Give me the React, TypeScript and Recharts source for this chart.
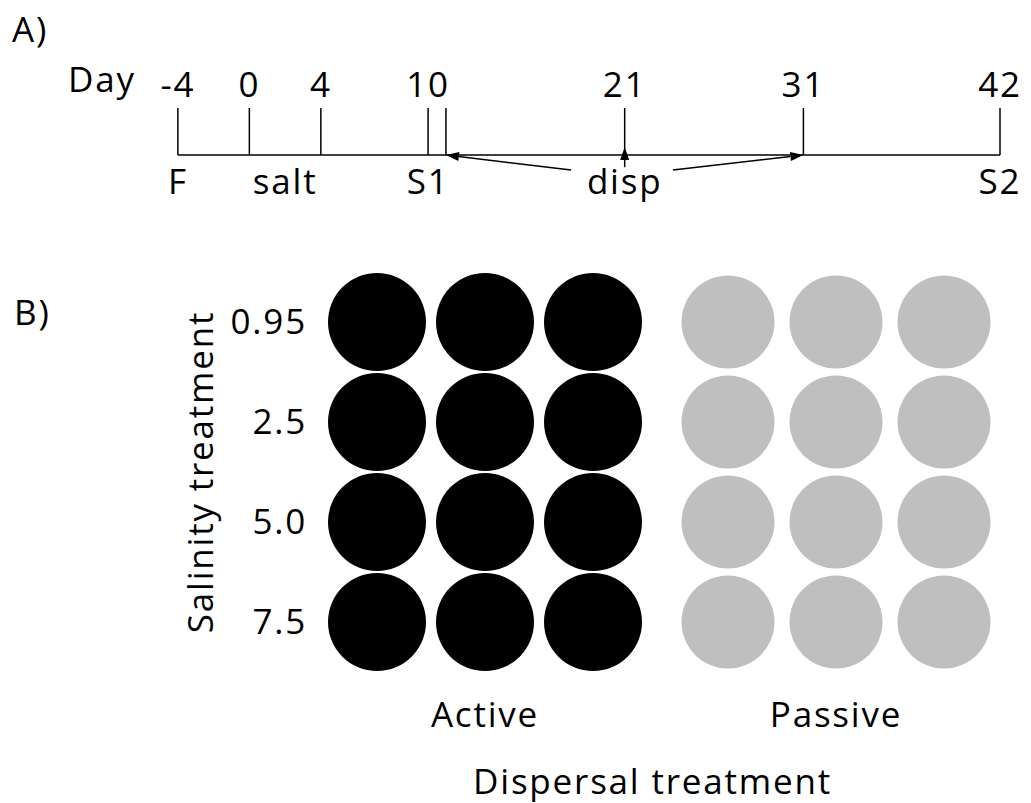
import React from 'react';
import { ScatterChart, Scatter, XAxis, YAxis, ReferenceLine } from 'recharts';

const FONT = '"Open Sans", sans-serif';
const FS = 35;
const LS = 1.8;

// A) timeline of the experiment (days)
const tickDays = [-4, 0, 4, 10, 11, 21, 31, 42];
const tickLabels = ['-4', '0', '4', '10', '', '21', '31', '42'];
const eventDays = [-4, 2, 10, 21, 42];
const eventLabels = ['F', 'salt', 'S1', 'disp', 'S2'];
const dispDays = [11, 21, 31];
const dispLabelDay = 21;

// B) experimental design
const salinities = ['0.95', '2.5', '5.0', '7.5'];
const dispersal = ['Active', 'Passive'];
const replicates = [1, 2, 3];
const groupColors = ['#000000', '#bfbfbf'];
const groupRadius = [49, 46.5];

const GROUP_SHIFT = 3.25;
const xOf = (group: number, rep: number) => rep + group * GROUP_SHIFT;

const tickPoints = tickDays.map((day, i) => ({ day, y: 1, label: tickLabels[i] }));
const eventPoints = eventDays.map((day, i) => ({ day, y: 0, label: eventLabels[i] }));

const groupCells = dispersal.map((g, gi) =>
  salinities.flatMap((s, si) =>
    replicates.map((r) => ({ x: xOf(gi, r), y: si, salinity: s, dispersal: g }))
  )
);
const groupTicks = dispersal.map((_, gi) => xOf(gi, 2));

const textStyle = { fontFamily: FONT, fontSize: FS, fill: '#000', letterSpacing: LS };

const TopLabel = (props: any) => {
  const { cx, cy, payload } = props;
  return (
    <text x={cx} y={cy - 11} textAnchor="middle" style={textStyle}>
      {payload.label}
    </text>
  );
};

const BottomLabel = (props: any) => {
  const { cx, cy, payload } = props;
  return (
    <text x={cx} y={cy + 39} textAnchor="middle" style={textStyle}>
      {payload.label}
    </text>
  );
};

const Arrow = (props: any) => {
  const { x1, y1, x2, y2 } = props;
  const ang = Math.atan2(y2 - y1, x2 - x1);
  const len = 13;
  const w = 4.5;
  const bx = x2 - len * Math.cos(ang);
  const by = y2 - len * Math.sin(ang);
  const pts = [
    `${x2},${y2}`,
    `${bx + w * Math.sin(ang)},${by - w * Math.cos(ang)}`,
    `${bx - w * Math.sin(ang)},${by + w * Math.cos(ang)}`,
  ].join(' ');
  return (
    <g>
      <line x1={x1} y1={y1} x2={bx} y2={by} stroke="#000" strokeWidth={1.5} />
      <polygon points={pts} fill="#000" />
    </g>
  );
};

const Dot = (color: string, r: number) => (props: any) => (
  <circle cx={props.cx} cy={props.cy} r={r} fill={color} />
);

const Timeline = () => (
  <ScatterChart width={1031} height={240} margin={{ top: 61, right: 31, bottom: 38, left: 160 }}>
    <XAxis type="number" dataKey="day" domain={[-5, 42]} hide />
    <YAxis type="number" dataKey="y" domain={[-1, 2]} hide />
    <ReferenceLine
      segment={[{ x: tickDays[0], y: 0 }, { x: tickDays[tickDays.length - 1], y: 0 }]}
      stroke="#000"
      strokeWidth={1.5}
    />
    {tickDays.map((d) => (
      <ReferenceLine key={'t' + d} segment={[{ x: d, y: 0 }, { x: d, y: 1 }]} stroke="#000" strokeWidth={1.5} />
    ))}
    {dispDays.map((d) => {
      const start =
        d < dispLabelDay
          ? { x: dispLabelDay - 3, y: -0.32 }
          : d > dispLabelDay
          ? { x: dispLabelDay + 2.7, y: -0.32 }
          : { x: dispLabelDay, y: -0.26 };
      const end = d === dispLabelDay ? { x: d, y: 0.17 } : { x: d, y: 0 };
      return <ReferenceLine key={'a' + d} segment={[start, end]} shape={Arrow} />;
    })}
    <Scatter data={tickPoints} shape={TopLabel} isAnimationActive={false} />
    <Scatter data={eventPoints} shape={BottomLabel} isAnimationActive={false} />
  </ScatterChart>
);

const Design = () => (
  <ScatterChart width={1031} height={563} margin={{ top: 32, right: 33, bottom: 0, left: 0 }}>
    <XAxis
      type="number"
      dataKey="x"
      domain={[0.5, 6.75]}
      ticks={groupTicks}
      interval={0}
      tickFormatter={(v: number) => dispersal[groupTicks.indexOf(v)]}
      axisLine={false}
      tickLine={false}
      tickSize={0}
      tickMargin={30}
      height={131}
      tick={{ fontFamily: FONT, fontSize: FS, fill: '#000', letterSpacing: LS }}
      label={{
        value: 'Dispersal treatment',
        position: 'insideBottom',
        offset: 9,
        dx: -8,
        style: { fontFamily: FONT, fontSize: FS, fill: '#000', letterSpacing: LS },
      }}
    />
    <YAxis
      type="number"
      dataKey="y"
      domain={[-0.5, 3.5]}
      ticks={[0, 1, 2, 3]}
      interval={0}
      reversed
      tickFormatter={(v: number) => salinities[v]}
      axisLine={false}
      tickLine={false}
      tickSize={0}
      tickMargin={16}
      width={323}
      tick={{ fontFamily: FONT, fontSize: FS, fill: '#000', letterSpacing: LS }}
      label={{
        value: 'Salinity treatment',
        angle: -90,
        position: 'insideLeft',
        offset: 201,
        style: { fontFamily: FONT, fontSize: FS, fill: '#000', textAnchor: 'middle', letterSpacing: LS },
      }}
    />
    {groupCells.map((cells, gi) => (
      <Scatter
        key={dispersal[gi]}
        name={dispersal[gi]}
        data={cells}
        fill={groupColors[gi]}
        shape={Dot(groupColors[gi], groupRadius[gi])}
        isAnimationActive={false}
      />
    ))}
  </ScatterChart>
);

export default function App() {
  return (
    <div
      style={{
        position: 'absolute',
        left: 0,
        top: 0,
        width: 1031,
        height: 803,
        background: '#fff',
        fontFamily: FONT,
        overflow: 'hidden',
      }}
    >
      <div style={{ position: 'absolute', left: 0, top: 0 }}>
        <Timeline />
      </div>
      <div style={{ position: 'absolute', left: 0, top: 240 }}>
        <Design />
      </div>
      <svg width={1031} height={803} style={{ position: 'absolute', left: 0, top: 0, pointerEvents: 'none' }}>
        <text x={12} y={42} style={textStyle}>A)</text>
        <text x={68} y={92} style={textStyle}>Day</text>
        <text x={14} y={325} style={textStyle}>B)</text>
      </svg>
    </div>
  );
}
